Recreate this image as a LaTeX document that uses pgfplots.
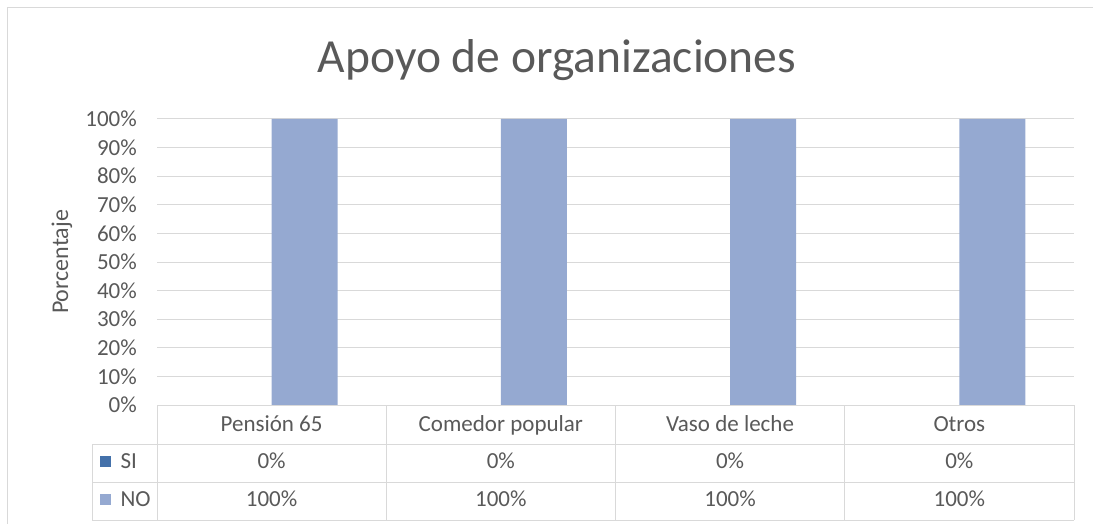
\documentclass[border=0pt]{standalone}
\usepackage{fontspec}
\setmainfont{Carlito}
\usepackage{pgfplots}
\pgfplotsset{compat=1.18}
\definecolor{txt}{HTML}{595959}
\definecolor{grd}{HTML}{D9D9D9}
\definecolor{si}{HTML}{4471AA}
\definecolor{no}{HTML}{95A9D1}

\begin{document}
\begin{tikzpicture}
\begin{axis}[at={(157pt,-405pt)}, anchor=south west, scale only axis,
  width=917pt, height=286pt,
  xmin=0, xmax=4, ymin=0, ymax=100, ytick={0,10,...,100}, xtick=\empty,
  ymajorgrids, grid style={grd, line width=1pt},
  axis line style={draw=none}, major tick length=0pt,
  yticklabel={\pgfmathprintnumber{\tick}\%},
  /pgf/number format/assume math mode=true,
  yticklabel style={font=\fontsize{23}{27}\selectfont, text=txt, inner sep=0pt, xshift=-20pt},
  ybar, bar width=66pt, clip=false]
\addplot[fill=si, draw=none, bar shift=-33pt] coordinates {(0.5,0) (1.5,0) (2.5,0) (3.5,0)};
\addplot[fill=no, draw=none, bar shift=33pt] coordinates {(0.5,100) (1.5,100) (2.5,100) (3.5,100)};
\end{axis}

\begin{scope}[x=1pt, y=-1pt, every node/.style={text=txt, font=\fontsize{23}{27}\selectfont}]
% outer frame
\draw[grd, line width=1pt] (7,524) -- (7,8) -- (1093,8);
% title and y label
\node[anchor=base, font=\fontsize{47.5}{56}\selectfont] at (557,73) {Apoyo de organizaciones};
\node[rotate=90, font=\fontsize{24}{28}\selectfont] at (62,262) {Porcentaje};
% data table
\draw[grd, line width=1pt] (157,405) -- (1074,405);
\foreach \yy in {444,482,520} \draw[grd, line width=1pt] (92,\yy) -- (1074,\yy);
\draw[grd, line width=1pt] (92,444) -- (92,520);
\foreach \k in {0,...,4} \draw[grd, line width=1pt] ({157+229.25*\k},405) -- ({157+229.25*\k},520);
\foreach \lab [count=\i from 0] in {Pensión 65, Comedor popular, Vaso de leche, Otros} {
  \node[anchor=base] at ({271.6+229.25*\i},431) {\lab};
  \node[anchor=base] at ({271.6+229.25*\i},468) {0\%};
  \node[anchor=base] at ({271.6+229.25*\i},506) {100\%};
}
\fill[si] (100,456) rectangle (111,467);
\fill[no] (100,494) rectangle (111,505);
\node[anchor=base west] at (117,468) {SI};
\node[anchor=base west] at (117,506) {NO};
\end{scope}
\pgfresetboundingbox
\path[use as bounding box] (0pt,0pt) rectangle (1093pt,-524pt);
\end{tikzpicture}
\end{document}
